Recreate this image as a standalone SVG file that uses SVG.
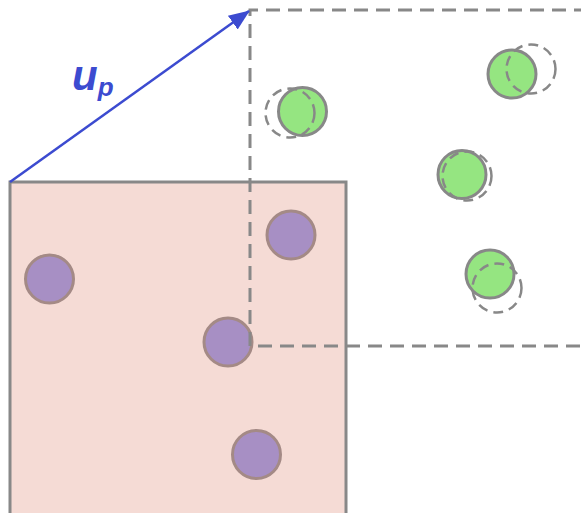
<svg xmlns="http://www.w3.org/2000/svg" width="581" height="513" viewBox="0 0 581 513">
<style>
.box{fill:#f5dbd5;stroke:#888;stroke-width:3}
.dash{fill:none;stroke:#888;stroke-width:3;stroke-dasharray:14 8}
.ghost{fill:none;stroke:#888;stroke-width:2.5;stroke-dasharray:10 6}
.purple{fill:#a78fc4;stroke:#a48a86;stroke-width:3}
.green{fill:#95e581;stroke:#888;stroke-width:3}
.lbl{font-family:"Liberation Sans",Arial,sans-serif;font-weight:bold;font-style:italic;fill:#3c4bd0}
</style>
<defs>
<marker id="ah2" viewBox="0 0 20 20" refX="19" refY="10" markerWidth="21" markerHeight="21" orient="auto" markerUnits="userSpaceOnUse">
<path d="M0,2 L20,10 L0,18 z" fill="#3c4bd0"/>
</marker>
</defs>
<g id="domain"><rect class="box" x="10" y="182" width="336" height="340"/></g>
<g id="purple-particles">
<circle class="purple" cx="49.5" cy="279" r="24"/>
<circle class="purple" cx="291" cy="235" r="24"/>
<circle class="purple" cx="228" cy="342" r="24"/>
<circle class="purple" cx="256.5" cy="454.5" r="24"/>
</g>
<g id="shifted-domain"><path class="dash" d="M588,10 H250 V346 H588"/></g>
<g id="green-particles">
<circle class="green" cx="302.5" cy="111.5" r="24"/>
<circle class="green" cx="512" cy="74" r="24"/>
<circle class="green" cx="462" cy="174.5" r="24"/>
<circle class="green" cx="490" cy="274" r="24"/>
</g>
<g id="ghost-particles">
<circle class="ghost" cx="290" cy="113" r="24.5"/>
<circle class="ghost" cx="531" cy="69" r="24.5"/>
<circle class="ghost" cx="467" cy="176" r="24.5"/>
<circle class="ghost" cx="497" cy="288" r="24.5"/>
</g>
<g id="connectors">
<line x1="10" y1="182" x2="249" y2="11" stroke="#3c4bd0" stroke-width="2.5" marker-end="url(#ah2)"/>
</g>
<g id="label">
<text class="lbl" x="72" y="90" font-size="42">u<tspan font-size="26" dy="6">p</tspan></text>
</g>
</svg>
